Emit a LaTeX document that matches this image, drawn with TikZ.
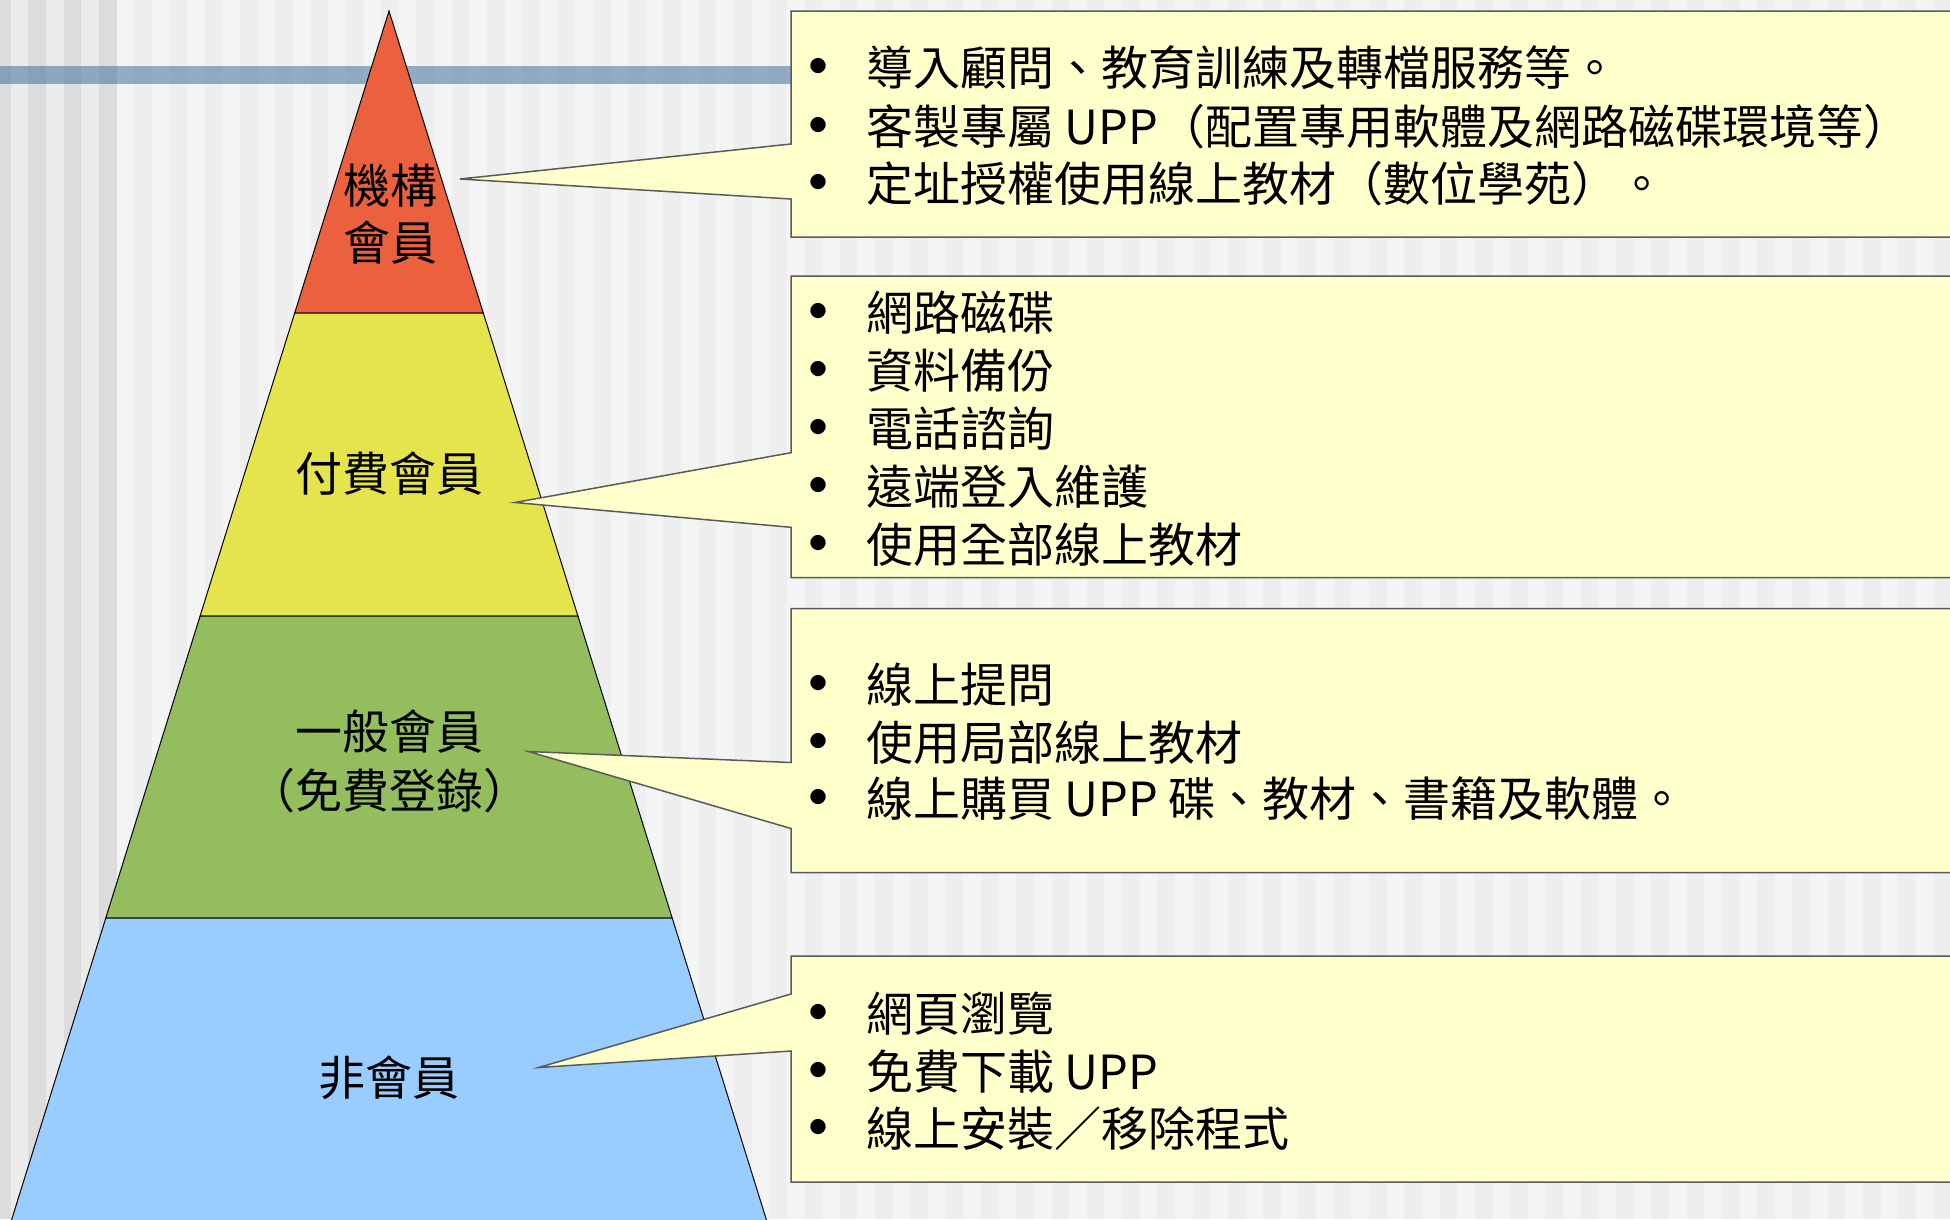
\documentclass[tikz,border=0pt]{standalone}
\usepackage{fontspec}
\setmainfont{Noto Sans CJK TC}
\definecolor{bgA}{HTML}{F4F4F4}
\definecolor{bgB}{HTML}{EEEEEE}
\definecolor{bgC}{HTML}{EBEBEB}
\definecolor{bgD}{HTML}{DCDCDC}
\definecolor{barblue}{RGB}{63,111,158}
\definecolor{redband}{HTML}{EB613E}
\definecolor{yellowband}{HTML}{E6E44C}
\definecolor{greenband}{HTML}{94BD5E}
\definecolor{blueband}{HTML}{99CCFF}
\definecolor{boxfill}{HTML}{FFFFCC}
\definecolor{boxline}{HTML}{5A5A5A}
\begin{document}
\begin{tikzpicture}[x=1pt,y=-1pt,
  itemtext/.style={anchor=base west,inner sep=0pt,font=\fontsize{47}{58}\selectfont},
  bul/.style={anchor=base,inner sep=0pt,yshift=13pt,font=\fontsize{17}{17}\selectfont},
  lbl/.style={anchor=base,inner sep=0pt,font=\fontsize{47}{58}\selectfont},
  band/.style={draw=black,line width=1pt,line join=miter},
  callout/.style={fill=boxfill,draw=boxline,line width=1.5pt,line join=miter}]
\useasboundingbox (0,0) rectangle (1950,1219);
\clip (0,0) rectangle (1950,1219);
% background stripes
\fill[bgC] (0,0) rectangle (116.6,1219);
\foreach \n in {1,3,5,7} {\fill[bgD] ({116.6-17.64*\n},0) rectangle ++(17.64,1219);}
\fill[bgA] (116.6,0) rectangle (1950,1219);
\foreach \n in {1,3,...,103} {\fill[bgB] ({116.6+17.64*\n},0) rectangle ++(17.64,1219);}
% bar
\fill[barblue,opacity=0.54] (0,66) rectangle (791,83.7);
% pyramid
\coordinate (apex) at (389,11);
\coordinate (l1) at (294.7,313); \coordinate (r1) at (483.3,313);
\coordinate (l2) at (200.1,616); \coordinate (r2) at (577.9,616);
\coordinate (l3) at (105.8,918); \coordinate (r3) at (672.2,918);
\coordinate (l4) at (8.4,1230);  \coordinate (r4) at (769.6,1230);
\path[band,fill=redband] (apex) -- (r1) -- (l1) -- cycle;
\path[band,fill=yellowband] (l1) -- (r1) -- (r2) -- (l2) -- cycle;
\path[band,fill=greenband] (l2) -- (r2) -- (r3) -- (l3) -- cycle;
\path[band,fill=blueband] (l3) -- (r3) -- (r4) -- (l4) -- cycle;
% callout boxes
\path[callout] (791,11) -- (1965,11) -- (1965,237) -- (791,237) -- (791,199) -- (460,179) -- (791,144) -- cycle;
\path[callout] (791,276) -- (1965,276) -- (1965,577.5) -- (791,577.5) -- (791,527.3) -- (515,502.5) -- (791,452.7) -- cycle;
\path[callout] (791,608.5) -- (1965,608.5) -- (1965,872.5) -- (791,872.5) -- (791,828.5) -- (528.6,751.5) -- (791,762.5) -- cycle;
\path[callout] (791,956) -- (1965,956) -- (1965,1182) -- (791,1182) -- (791,1051) -- (538.6,1067.5) -- (791,994) -- cycle;
% pyramid labels
\node[lbl] (p1a) at (390,203) {機構};
\node[lbl] (p1b) at (390,260.5) {會員};
\node[lbl] (p2) at (389,491) {付費會員};
\node[lbl] (p3a) at (389,749) {一般會員};
\node[lbl] (p3b) at (389,808) {（免費登錄）};
\node[lbl] (p4) at (389,1095) {非會員};
% box 1
\node[bul] (u1a) at (818,85.5) {●};
\node[itemtext] (t1a) at (866,85.5) {導入顧問、教育訓練及轉檔服務等。};
\node[bul] (u1b) at (818,144) {●};
\node[itemtext] (t1b) at (866,144) {客製專屬 UPP（配置專用軟體及網路磁碟環境等）};
\node[bul] (u1c) at (818,201) {●};
\node[itemtext] (t1c) at (866,201) {定址授權使用線上教材（數位學苑）。};
% box 2
\node[bul] (u2a) at (818,330) {●};
\node[itemtext] (t2a) at (866,330) {網路磁碟};
\node[bul] (u2b) at (818,388) {●};
\node[itemtext] (t2b) at (866,388) {資料備份};
\node[bul] (u2c) at (818,446) {●};
\node[itemtext] (t2c) at (866,446) {電話諮詢};
\node[bul] (u2d) at (818,504) {●};
\node[itemtext] (t2d) at (866,504) {遠端登入維護};
\node[bul] (u2e) at (818,562) {●};
\node[itemtext] (t2e) at (866,562) {使用全部線上教材};
% box 3
\node[bul] (u3a) at (818,702) {●};
\node[itemtext] (t3a) at (866,702) {線上提問};
\node[bul] (u3b) at (818,760) {●};
\node[itemtext] (t3b) at (866,760) {使用局部線上教材};
\node[bul] (u3c) at (818,816) {●};
\node[itemtext] (t3c) at (866,816) {線上購買 UPP 碟、教材、書籍及軟體。};
% box 4
\node[bul] (u4a) at (818,1031) {●};
\node[itemtext] (t4a) at (866,1031) {網頁瀏覽};
\node[bul] (u4b) at (818,1089) {●};
\node[itemtext] (t4b) at (866,1089) {免費下載 UPP};
\node[bul] (u4c) at (818,1146) {●};
\node[itemtext] (t4c) at (866,1146) {線上安裝／移除程式};
\end{tikzpicture}
\end{document}
